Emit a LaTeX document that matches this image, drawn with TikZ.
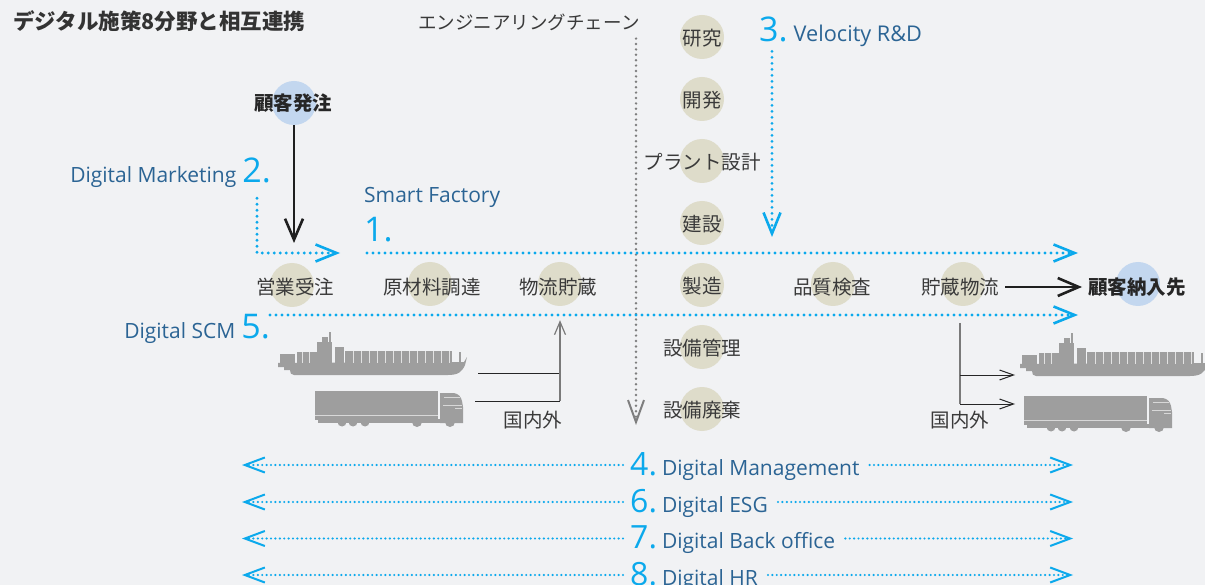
\documentclass[tikz,border=0pt]{standalone}
\usepackage{fontspec}
\setmainfont{Open Sans}
\newfontfamily\jpfont{Noto Sans CJK JP}
\usetikzlibrary{arrows.meta,calc}

\definecolor{bgc}{HTML}{F1F2F4}
\definecolor{cyanc}{HTML}{0BA9EC}
\definecolor{dblue}{HTML}{2B6494}
\definecolor{beige}{HTML}{DEDCCA}
\definecolor{lblue}{HTML}{C3D7EF}
\definecolor{txtgray}{HTML}{3A3A3A}
\definecolor{dotgray}{HTML}{7E7E7E}
\definecolor{vehgray}{HTML}{9E9E9E}
\definecolor{linegray}{HTML}{7A7A7A}

\newcommand\bignum{\color{cyanc}\fontsize{34}{34}\selectfont}
\newcommand\latf{\color{dblue}\fontsize{21}{21}\selectfont}
\newcommand\midnum{\color{cyanc}\fontsize{32}{32}\selectfont}

\tikzset{
  bead/.style={circle, fill=beige, minimum size=44pt, inner sep=0pt},
  custbead/.style={circle, fill=lblue, minimum size=44pt, inner sep=0pt},
  lab/.style={font=\jpfont\fontsize{19.5}{20}\selectfont, text=txtgray, inner sep=0pt},
  boldlab/.style={font=\jpfont\bfseries\fontsize{19.5}{20}\selectfont, text=black!85, inner sep=0pt},
  latlab/.style={inner sep=0pt},
  dlabel/.style={anchor=base west, inner xsep=7pt, inner ysep=0pt},
  bluedots/.style={draw=cyanc, line width=3.1pt, line cap=round, dash pattern=on 0pt off 6pt},
  finedots/.style={draw=cyanc, line width=2.4pt, line cap=round, dash pattern=on 0pt off 4.4pt},
  greydots/.style={draw=dotgray, line width=2.7pt, line cap=round, dash pattern=on 0pt off 5.4pt},
  cyanhead/.style={-{Straight Barb[length=21pt,width=17pt,line width=2.6pt]}},
  finehead/.style={-{Straight Barb[length=20pt,width=15pt,line width=2pt]}},
  greyhead/.style={-{Straight Barb[length=22pt,width=16pt,line width=2pt]}},
  blackarrow/.style={draw=black!88, line width=2.6pt, -{Straight Barb[length=21pt,width=18pt,line width=2.6pt]}},
  thinarrow/.style={draw=black!85, line width=1pt, -{Straight Barb[length=14pt,width=10pt,line width=1pt]}},
  thinline/.style={draw=black!85, line width=1pt},
  transline/.style={draw=linegray, line width=1.6pt},
  ship/.pic={
    \fill[vehgray] (0,31) -- (186,30) -- (189,25) -- (187,33)
      .. controls (184,40) and (180,43) .. (170,43) -- (16,43)
      .. controls (13,43) and (12,41) .. (12,38) -- (6,38) -- (6,35) -- (0,35) -- cycle;
    \fill[vehgray] (2,22) rectangle (17,31);
    \fill[vehgray] (19,20) rectangle (39,31);
    \fill[vehgray] (39,10) rectangle (54,31);
    \fill[vehgray] (51,0) rectangle (52.5,10);
    \fill[vehgray] (44,5) rectangle (50,10);
    \fill[vehgray] (57,15) rectangle (66,31);
    \fill[vehgray] (67,19) rectangle (174,31);
    \fill[vehgray] (181,20) rectangle (183,30);
    \foreach \i in {75,83,...,171} \draw[white!70!vehgray, line width=0.6pt] (\i,19.5) -- (\i,30.5);
    \foreach \i in {24,31} \draw[white!70!vehgray, line width=0.6pt] (\i,20.5) -- (\i,30.5);
  },
  truck/.pic={
    \fill[vehgray] (0,0) rectangle (123,29);
    \draw[white!60!vehgray, line width=0.8pt] (0,24) -- (123,24);
    \fill[vehgray] (3,28) rectangle (148,32);
    \fill[vehgray] (125,2) -- (139,2) .. controls (144,3) and (146,6) .. (147,10)
      -- (148,16) -- (148,32) -- (125,32) -- cycle;
    \draw[white!60!vehgray, line width=0.8pt] (129,6) -- (145,6) (128,14) -- (147,14) (140,17) -- (147,17);
    \foreach \wx/\wr in {27/4.5, 38/4.5, 50/4.5, 102/5, 135/5}
      \fill[vehgray] (\wx,31) circle[radius=\wr];
  }
}

\begin{document}
\begin{tikzpicture}[x=1pt,y=-1pt]
\path[fill=bgc, use as bounding box] (0,0) rectangle (1205,585);

% title
\node[anchor=west, inner sep=0pt, font=\jpfont\bfseries\fontsize{21.5}{22}\selectfont, text=black!80] (title) at (13,21) {デジタル施策8分野と相互連携};

% customer order
\node[custbead] (co-c) at (294,103) {};
\node[boldlab] (co) at (293,103) {顧客発注};

% engineering chain column
\foreach \nm/\txt [count=\k from 0] in {kenkyu/研究, kaihatsu/開発, plant/プラント設計, kensetsu/建設, seizo/製造, kanri/設備管理, haiki/設備廃棄} {
  \node[bead] (\nm-c) at (702,37+62*\k) {};
  \node[lab] (\nm) at (702,38+62*\k) {\txt};
}

% supply chain row
\node[bead] (eigyo-c) at (292,285) {};
\node[lab] (eigyo) at (295,287) {営業受注};
\node[bead] (genzai-c) at (430,284) {};
\node[lab] (genzai) at (432,287) {原材料調達};
\node[bead] (butsu-c) at (560,284) {};
\node[lab] (butsu) at (558,287) {物流貯蔵};
\node[bead] (hin-c) at (833,284) {};
\node[lab] (hin) at (832,287) {品質検査};
\node[bead] (chozo-c) at (963,284) {};
\node[lab, inner xsep=6pt] (chozo) at (960,287) {貯蔵物流};
\node[custbead] (nonyu-c) at (1138,284) {};
\node[boldlab, inner xsep=6pt] (nonyu) at (1137,287) {顧客納入先};

% engineering chain
\node[lab, font=\jpfont\fontsize{18.5}{19}\selectfont] (ec) at (529,22) {エンジニアリングチェーン};
\coordinate (ec-end) at (636,425);
\draw[greydots, greyhead, shorten <=8pt] (ec.south -| ec-end) -- (ec-end);

% labels of the digital fields
\node[latlab, anchor=base east] (mk) at (271,183) {\latf Digital Marketing\hspace{6pt}\bignum 2.};
\node[latlab, anchor=base west] (sf) at (364,203) {\latf Smart Factory};
\node[latlab, anchor=base west] (n1) at (364,242) {\bignum 1.};
\node[latlab, anchor=base west] (vel) at (759,42) {\bignum 3.\hspace{6pt}\latf\fontsize{21.7}{22}\selectfont Velocity R\&D};
\node[latlab, anchor=base east] (scm) at (270,338) {\latf Digital SCM\hspace{6pt}\bignum 5.};

% 2. Digital Marketing
\coordinate (m1) at (340,253);
\draw[bluedots, cyanhead] ([shift={(-14,10)}]mk.south east) |- (m1);
% 1. Smart Factory
\coordinate (e1) at (1078,253);
\draw[bluedots, cyanhead] ([xshift=3pt]n1.west |- e1) -- (e1);
% 3. Velocity R&D
\coordinate (v1) at (772,237);
\draw[bluedots, cyanhead] ([shift={(13,4)}]vel.south west) -- (v1);
% 5. Digital SCM
\coordinate (s5) at (1078,315);
\draw[bluedots, cyanhead] (scm.north east |- s5) -- (s5);

% order flow
\coordinate (ka) at (294,243);
\draw[blackarrow] (co-c) -- (ka);
\draw[blackarrow] (chozo.east) -- (nonyu.west);

% inbound transport
\pic at (278,332) {ship};
\pic at (315,391) {truck};
\coordinate (sh1) at (478,373);
\coordinate (tr1) at (475,401);
\coordinate (jn1) at (560,373);
\coordinate (jn2) at (560,401);
\draw[thinline] (sh1) -- (jn1);
\draw[thinline] (tr1) -- (jn2);
\draw[transline, -{Straight Barb[length=13pt,width=11pt,line width=1.2pt]}] (jn2) -- ([shift={(0,14)}]butsu-c.south);
\node[lab] (inout1) at (533,420) {国内外};

% outbound transport
\pic at (1020,333) {ship};
\pic at (1024,396) {truck};
\coordinate (rv0) at (960,323);
\coordinate (rv1) at (960,404);
\coordinate (rs) at (1015,375);
\coordinate (rt) at (1015,404);
\draw[transline] (rv0) -- (rv1);
\draw[thinarrow] (rv0 |- rs) -- (rs);
\draw[thinarrow] (rv1) -- (rt);
\node[lab] (inout2) at (960,420) {国内外};

% company-wide fields
\foreach \nm/\num/\txt/\b in {d4/4/Digital Management/475, d6/6/Digital ESG/512, d7/7/Digital Back office/548.5, d8/8/Digital HR/585} {
  \node[dlabel] (\nm) at (623,\b) {\midnum \num.\hspace{5pt}\latf \txt};
  \coordinate (\nm-l) at (242,\b-10);
  \coordinate (\nm-r) at (1073,\b-10);
  \draw[finedots, finehead] (\nm.west |- \nm-l) -- (\nm-l);
  \draw[finedots, finehead] ([xshift=3pt]\nm.east |- \nm-r) -- (\nm-r);
}
\end{tikzpicture}
\end{document}
